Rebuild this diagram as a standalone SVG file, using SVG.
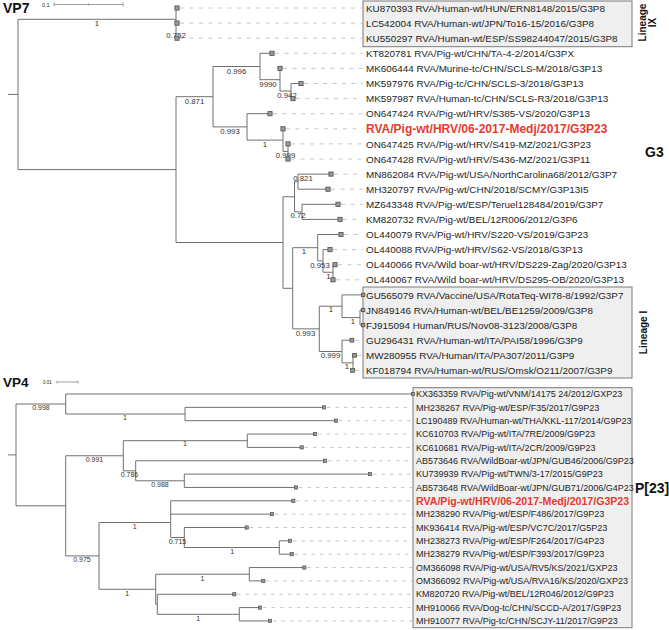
<svg xmlns="http://www.w3.org/2000/svg" width="669" height="630" viewBox="0 0 669 630">
<style>
.br{stroke:#707070;stroke-width:1;fill:none}
.d7{stroke:#b8b8b8;stroke-width:0.8;stroke-dasharray:4 5.5;fill:none}
.d4{stroke:#b8b8b8;stroke-width:0.8;stroke-dasharray:3.5 5;fill:none}
.box{fill:#efefef;stroke:#7a7a7a;stroke-width:1}
.sq7{fill:#9a9a9a;stroke:#4d4d4d;stroke-width:0.8}
.sq4{fill:#9a9a9a;stroke:#4d4d4d;stroke-width:0.7}
text{font-family:"Liberation Sans",Arial,sans-serif;fill:#1e1e1e}
.t7{font-size:9.9px}
.t4{font-size:9px}
.r7{font-size:12px;font-weight:bold;fill:#e8392f}
.r4{font-size:10.6px;font-weight:bold;fill:#e8392f}
.s7{font-size:7.8px;text-anchor:middle;fill:#333}
.s4{font-size:7px;text-anchor:middle;fill:#333}
.big{font-weight:bold;fill:#111}
.lin{font-size:10px;font-weight:bold;fill:#111;text-anchor:middle}
.sb{stroke:#888;stroke-width:0.8;fill:none}
</style>

<!-- titles and scale bars -->
<text class="big" x="3" y="12.5" font-size="14">VP7</text>
<text x="42" y="6.5" font-size="5.5" fill="#555">0.1</text>
<path class="sb" d="M54 4.5H123M54 2.5V6.5M88.5 3.5V5.5M123 2.5V6.5"/>
<text class="big" x="3" y="387" font-size="13.5">VP4</text>
<text x="43" y="383.5" font-size="4.5" fill="#555">0.01</text>
<path class="sb" d="M57 382H78M57 380.5V383.5M78 380.5V383.5"/>

<!-- boxes -->
<rect class="box" x="363" y="1" width="269" height="45.7"/>
<rect class="box" x="363" y="287" width="269" height="91"/>
<rect class="box" x="413" y="387.7" width="219" height="240"/>

<!-- group labels -->
<text class="lin" transform="translate(645.5,22.5) rotate(-90)">Lineage</text>
<text class="lin" transform="translate(655.5,22.5) rotate(-90)">IX</text>
<text class="lin" transform="translate(646.5,332.5) rotate(-90)">Lineage I</text>
<text class="big" x="645" y="157" font-size="14">G3</text>
<text class="big" x="635" y="493" font-size="14">P[23]</text>

<g id="connectors">
<path class="br" d="M8 94.45H18M18 19.3V169.6
M18 19.3H176M176 8V38.2M176 8H177M176 23.1H177M176 38.2H177
M18 169.6H176M176 96.7V242.5
M176 96.7H213M213 66.5V126.9
M213 66.5H260M260 53.3V79.7M260 53.3H272M260 79.7H280M280 68.4V91.05M291 83.5V98.6M280 91.05H291M291 83.5H301M291 98.6H293
M213 126.9H247M247 113.7V140.1M247 113.7H270M247 140.1H283M283 128.8V151.45M283 151.45H288M288 143.9V159
M176 242.5H283M283 196.75V288.3
M283 196.75H294.5M294.5 181.65V211.85M294.5 181.65H298M298 174.1V189.2M298 174.1H331M298 189.2H328M294.5 211.85H302M302 204.3V219.4M302 204.3H338M302 219.4H340
M283 288.3H292.7M292.7 247.7V328.85
M292.7 247.7H317.7M317.7 234.5V260.9M317.7 234.5H341M317.7 260.9H323M323 249.6V272.25M323 249.6H330M323 272.25H333M333 264.7V279.8M333 264.7H335
M292.7 328.85H319.3M319.3 306.2V351.5
M319.3 306.2H342M342 294.9V317.55M342 294.9H363M342 317.55H360M360 310V325.1M360 310H362M360 325.1H362
M319.3 351.5H342M342 340.2V362.85M342 340.2H352M342 362.85H353M353 355.3V370.4M353 355.3H354"/>
<path class="d7" d="M180 8H363M180 23.1H363M180 38.2H363M275 53.3H363M283 68.4H363M304 83.5H363M296 98.6H363M273 113.7H363M286 128.8H363M291 143.9H363M291 159H363M334 174.1H363M331 189.2H363M341 204.3H363M343 219.4H363M344 234.5H363M333 249.6H363M338 264.7H363M336 279.8H363M355 340.2H363M357 355.3H363M355 370.4H363"/>
<path class="br" d="M8 454.9H16M16 404V505.8
M16 404H65.7M65.7 394V414M65.7 394H413M65.7 414H185M185 407.35V420.7M185 407.35H324M185 420.7H336
M16 505.8H65.7M65.7 455.75V555.9
M65.7 455.75H123.3M123.3 440.7V470.8
M123.3 440.7H247.3M247.3 434.05V447.4M247.3 434.05H315M247.3 447.4H301.7
M123.3 470.8H135.7M135.7 460.75V480.8M135.7 460.75H325M135.7 480.8H184.3M184.3 474.1V487.45M184.3 474.1H370M184.3 487.45H296
M65.7 555.9H99M99 522.5V589.25
M99 522.5H170.7M170.7 500.8V537.5M170.7 500.8H293.3M170.7 514.15H272M170.7 537.5H184.3M184.3 527.5V547.5M184.3 527.5H246.7M184.3 547.5H279.3M279.3 540.85V554.2M279.3 540.85H290M279.3 554.2H291.7
M99 589.25H155.7M155.7 574.2V604.3M155.7 574.2H249.3M249.3 567.55V580.9M249.3 567.55H304.3M249.3 580.9H263.3M155.7 604.3H157.3M157.3 594.25V614.3M157.3 594.25H234.3M157.3 614.3H239.3M239.3 607.6V620.95M239.3 607.6H260M239.3 620.95H270"/>
<path class="d4" d="M327 407.35H413M339 420.7H413M318 434.05H413M304.5 447.4H413M328 460.75H413M373 474.1H413M299 487.45H413M296 500.8H413M275 514.15H413M249.5 527.5H413M293 540.85H413M294.5 554.2H413M307 567.55H413M266 580.9H413M237 594.25H413M263 607.6H413M273 620.95H413"/>
</g>

<g id="support-values">
<text class="s7" x="97" y="26">1</text>
<text class="s7" x="176" y="37.5">0.752</text>
<text class="s7" x="236.5" y="73.5">0.996</text>
<text class="s7" x="268" y="87">9990</text>
<text class="s7" x="287" y="98">0.942</text>
<text class="s7" x="194.5" y="103.5">0.871</text>
<text class="s7" x="230" y="133.5">0.993</text>
<text class="s7" x="265" y="147">1</text>
<text class="s7" x="285.5" y="158.3">0.999</text>
<text class="s7" x="303" y="180.5">0.821</text>
<text class="s7" x="298" y="218">0.72</text>
<text class="s7" x="304" y="254">1</text>
<text class="s7" x="320" y="267.8">0.953</text>
<text class="s7" x="328.5" y="279.3">1</text>
<text class="s7" x="331" y="312.3">1</text>
<text class="s7" x="353" y="324.3">1</text>
<text class="s7" x="305.5" y="335.7">0.993</text>
<text class="s7" x="330.5" y="358.3">0.999</text>
<text class="s7" x="347" y="369.3">1</text>
<text class="s4" x="41" y="409.5">0.998</text>
<text class="s4" x="125" y="420">1</text>
<text class="s4" x="94.5" y="461.6">0.991</text>
<text class="s4" x="185" y="446">1</text>
<text class="s4" x="129.5" y="476.5">0.786</text>
<text class="s4" x="160" y="486.5">0.988</text>
<text class="s4" x="134.7" y="529">1</text>
<text class="s4" x="177.5" y="543.5">0.715</text>
<text class="s4" x="232.3" y="553.8">1</text>
<text class="s4" x="82" y="561.7">0.975</text>
<text class="s4" x="202.5" y="580.7">1</text>
<text class="s4" x="127.3" y="596.3">1</text>
<text class="s4" x="198.3" y="620.7">1</text>
</g>

<!-- VP7 tips -->
<g id="KU870393"><rect class="sq7" x="174.9" y="5.9" width="4.2" height="4.2"/><text class="t7" x="366" y="11.6">KU870393 RVA/Human-wt/HUN/ERN8148/2015/G3P8</text></g>
<g id="LC542004"><rect class="sq7" x="174.9" y="21" width="4.2" height="4.2"/><text class="t7" x="366" y="26.7">LC542004 RVA/Human-wt/JPN/To16-15/2016/G3P8</text></g>
<g id="KU550297"><rect class="sq7" x="174.9" y="36.1" width="4.2" height="4.2"/><text class="t7" x="366" y="41.8">KU550297 RVA/Human-wt/ESP/SS98244047/2015/G3P8</text></g>
<g id="KT820781"><rect class="sq7" x="269.9" y="51.2" width="4.2" height="4.2"/><text class="t7" x="366" y="56.9">KT820781 RVA/Pig-wt/CHN/TA-4-2/2014/G3PX</text></g>
<g id="MK606444"><rect class="sq7" x="277.9" y="66.3" width="4.2" height="4.2"/><text class="t7" x="366" y="72">MK606444 RVA/Murine-tc/CHN/SCLS-M/2018/G3P13</text></g>
<g id="MK597976"><rect class="sq7" x="298.9" y="81.4" width="4.2" height="4.2"/><text class="t7" x="366" y="87.1">MK597976 RVA/Pig-tc/CHN/SCLS-3/2018/G3P13</text></g>
<g id="MK597987"><rect class="sq7" x="290.9" y="96.5" width="4.2" height="4.2"/><text class="t7" x="366" y="102.2">MK597987 RVA/Human-tc/CHN/SCLS-R3/2018/G3P13</text></g>
<g id="ON647424"><rect class="sq7" x="267.9" y="111.6" width="4.2" height="4.2"/><text class="t7" x="366" y="117.3">ON647424 RVA/Pig-wt/HRV/S385-VS/2020/G3P13</text></g>
<g id="Medj-VP7"><rect class="sq7" x="280.9" y="126.7" width="4.2" height="4.2"/><text class="r7" x="366" y="133.1">RVA/Pig-wt/HRV/06-2017-Medj/2017/G3P23</text></g>
<g id="ON647425"><rect class="sq7" x="285.9" y="141.8" width="4.2" height="4.2"/><text class="t7" x="366" y="147.5">ON647425 RVA/Pig-wt/HRV/S419-MZ/2021/G3P23</text></g>
<g id="ON647428"><rect class="sq7" x="285.9" y="156.9" width="4.2" height="4.2"/><text class="t7" x="366" y="162.6">ON647428 RVA/Pig-wt/HRV/S436-MZ/2021/G3P11</text></g>
<g id="MN862084"><rect class="sq7" x="328.9" y="172" width="4.2" height="4.2"/><text class="t7" x="366" y="177.7">MN862084 RVA/Pig-wt/USA/NorthCarolina68/2012/G3P7</text></g>
<g id="MH320797"><rect class="sq7" x="325.9" y="187.1" width="4.2" height="4.2"/><text class="t7" x="366" y="192.8">MH320797 RVA/Pig-wt/CHN/2018/SCMY/G3P13I5</text></g>
<g id="MZ643348"><rect class="sq7" x="335.9" y="202.2" width="4.2" height="4.2"/><text class="t7" x="366" y="207.9">MZ643348 RVA/Pig-wt/ESP/Teruel128484/2019/G3P7</text></g>
<g id="KM820732"><rect class="sq7" x="337.9" y="217.3" width="4.2" height="4.2"/><text class="t7" x="366" y="223">KM820732 RVA/Pig-wt/BEL/12R006/2012/G3P6</text></g>
<g id="OL440079"><rect class="sq7" x="338.9" y="232.4" width="4.2" height="4.2"/><text class="t7" x="366" y="238.1">OL440079 RVA/Pig-wt/HRV/S220-VS/2019/G3P23</text></g>
<g id="OL440088"><rect class="sq7" x="327.9" y="247.5" width="4.2" height="4.2"/><text class="t7" x="366" y="253.2">OL440088 RVA/Pig-wt/HRV/S62-VS/2018/G3P13</text></g>
<g id="OL440066"><rect class="sq7" x="332.9" y="262.6" width="4.2" height="4.2"/><text class="t7" x="366" y="268.3">OL440066 RVA/Wild boar-wt/HRV/DS229-Zag/2020/G3P13</text></g>
<g id="OL440067"><rect class="sq7" x="330.9" y="277.7" width="4.2" height="4.2"/><text class="t7" x="366" y="283.4">OL440067 RVA/Wild boar-wt/HRV/DS295-OB/2020/G3P13</text></g>
<g id="GU565079"><rect class="sq7" x="361.4" y="293.2" width="3.4" height="3.4"/><text class="t7" x="366" y="298.5">GU565079 RVA/Vaccine/USA/RotaTeq-WI78-8/1992/G3P7</text></g>
<g id="JN849146"><rect class="sq7" x="361.4" y="308.3" width="3.4" height="3.4"/><text class="t7" x="366" y="313.6">JN849146 RVA/Human-wt/BEL/BE1259/2009/G3P8</text></g>
<g id="FJ915094"><rect class="sq7" x="361.4" y="323.4" width="3.4" height="3.4"/><text class="t7" x="366" y="328.7">FJ915094 Human/RUS/Nov08-3123/2008/G3P8</text></g>
<g id="GU296431"><rect class="sq7" x="350" y="338.3" width="3.8" height="3.8"/><text class="t7" x="366" y="343.8">GU296431 RVA/Human-wt/ITA/PAI58/1996/G3P9</text></g>
<g id="MW280955"><rect class="sq7" x="352.6" y="353.4" width="3.8" height="3.8"/><text class="t7" x="366" y="358.9">MW280955 RVA/Human/ITA/PA307/2011/G3P9</text></g>
<g id="KF018794"><rect class="sq7" x="350.6" y="368.5" width="3.8" height="3.8"/><text class="t7" x="366" y="374">KF018794 RVA/Human-wt/RUS/Omsk/O211/2007/G3P9</text></g>

<!-- VP4 tips -->
<g id="KX363359"><rect class="sq4" x="411.4" y="392.4" width="3.2" height="3.2"/><text class="t4" x="416" y="397.2">KX363359 RVA/Pig-wt/VNM/14175 24/2012/GXP23</text></g>
<g id="MH238267"><rect class="sq4" x="322.4" y="405.75" width="3.2" height="3.2"/><text class="t4" x="416" y="410.55">MH238267 RVA/Pig-wt/ESP/F35/2017/G9P23</text></g>
<g id="LC190489"><rect class="sq4" x="334.4" y="419.1" width="3.2" height="3.2"/><text class="t4" x="416" y="423.9">LC190489 RVA/Human-wt/THA/KKL-117/2014/G9P23</text></g>
<g id="KC610703"><rect class="sq4" x="313.4" y="432.45" width="3.2" height="3.2"/><text class="t4" x="416" y="437.25">KC610703 RVA/Pig-wt/ITA/7RE/2009/G9P23</text></g>
<g id="KC610681"><rect class="sq4" x="300.1" y="445.8" width="3.2" height="3.2"/><text class="t4" x="416" y="450.6">KC610681 RVA/Pig-wt/ITA/2CR/2009/G9P23</text></g>
<g id="AB573646"><rect class="sq4" x="323.4" y="459.15" width="3.2" height="3.2"/><text class="t4" x="416" y="463.95">AB573646 RVA/WildBoar-wt/JPN/GUB46/2006/G9P23</text></g>
<g id="KU739939"><rect class="sq4" x="368.4" y="472.5" width="3.2" height="3.2"/><text class="t4" x="416" y="477.3">KU739939 RVA/Pig-wt/TWN/3-17/2015/G9P23</text></g>
<g id="AB573648"><rect class="sq4" x="294.4" y="485.85" width="3.2" height="3.2"/><text class="t4" x="416" y="490.65">AB573648 RVA/WildBoar-wt/JPN/GUB71/2006/G4P23</text></g>
<g id="Medj-VP4"><rect class="sq4" x="291.7" y="499.2" width="3.2" height="3.2"/><text class="r4" x="416" y="504.6">RVA/Pig-wt/HRV/06-2017-Medj/2017/G3P23</text></g>
<g id="MH238290"><rect class="sq4" x="270.4" y="512.55" width="3.2" height="3.2"/><text class="t4" x="416" y="517.35">MH238290 RVA/Pig-wt/ESP/F486/2017/G9P23</text></g>
<g id="MK936414"><rect class="sq4" x="245.1" y="525.9" width="3.2" height="3.2"/><text class="t4" x="416" y="530.7">MK936414 RVA/Pig-wt/ESP/VC7C/2017/G5P23</text></g>
<g id="MH238273"><rect class="sq4" x="288.4" y="539.25" width="3.2" height="3.2"/><text class="t4" x="416" y="544.05">MH238273 RVA/Pig-wt/ESP/F264/2017/G4P23</text></g>
<g id="MH238279"><rect class="sq4" x="290.1" y="552.6" width="3.2" height="3.2"/><text class="t4" x="416" y="557.4">MH238279 RVA/Pig-wt/ESP/F393/2017/G9P23</text></g>
<g id="OM366098"><rect class="sq4" x="302.7" y="565.95" width="3.2" height="3.2"/><text class="t4" x="416" y="570.75">OM366098 RVA/Pig-wt/USA/RV5/KS/2021/GXP23</text></g>
<g id="OM366092"><rect class="sq4" x="261.7" y="579.3" width="3.2" height="3.2"/><text class="t4" x="416" y="584.1">OM366092 RVA/Pig-wt/USA/RVA16/KS/2020/GXP23</text></g>
<g id="KM820720"><rect class="sq4" x="232.7" y="592.65" width="3.2" height="3.2"/><text class="t4" x="416" y="597.45">KM820720 RVA/Pig-wt/BEL/12R046/2012/G9P23</text></g>
<g id="MH910066"><rect class="sq4" x="258.4" y="606" width="3.2" height="3.2"/><text class="t4" x="416" y="610.8">MH910066 RVA/Dog-tc/CHN/SCCD-A/2017/G9P23</text></g>
<g id="MH910077"><rect class="sq4" x="268.4" y="619.35" width="3.2" height="3.2"/><text class="t4" x="416" y="624.15">MH910077 RVA/Pig-tc/CHN/SCJY-11/2017/G9P23</text></g>
</svg>
